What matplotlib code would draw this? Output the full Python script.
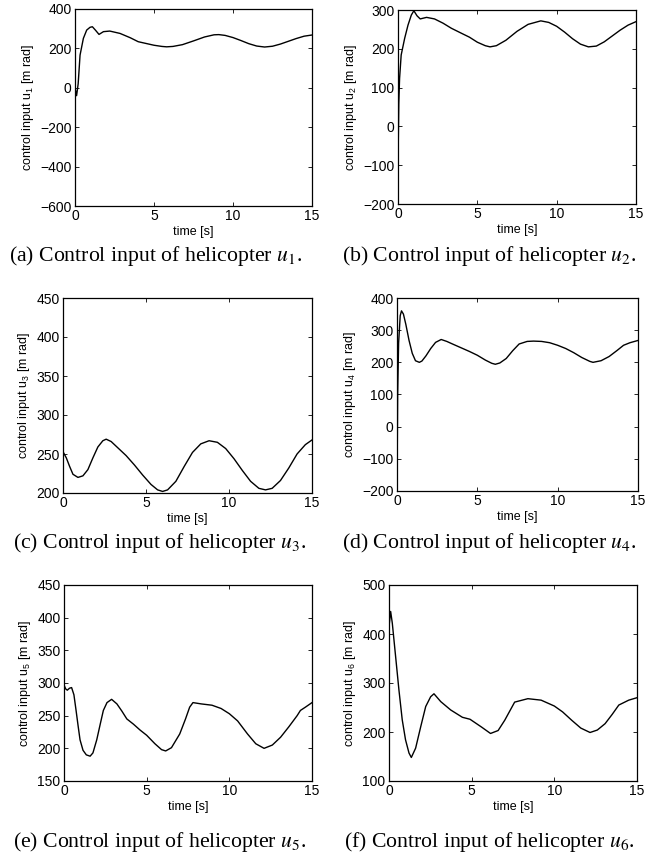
import matplotlib
matplotlib.use("Agg")
import matplotlib.pyplot as plt

# values (time [s], control input [m rad])
t1 = [0, 0.1, 0.2, 0.32, 0.53, 0.74, 0.95, 1.1, 1.3, 1.52, 1.8, 2.2, 2.85, 3.5, 4.0, 4.5,
      5.0, 5.5, 5.8, 6.2, 6.8, 7.5, 8.2, 8.8, 9.1, 9.5, 10.0, 10.5, 11.0, 11.5, 12.0,
      12.5, 13.0, 13.5, 14.0, 14.5, 15.0]
u1 = [0, -40, 20, 166, 251, 293, 307, 310, 292, 271, 285, 288, 276, 254, 234, 225,
      216, 210, 208, 210, 219, 238, 258, 269, 270, 266, 255, 240, 224, 212, 207,
      211, 222, 236, 250, 262, 268]

t2 = [0, 0.05, 0.1, 0.2, 0.42, 0.63, 0.84, 1.0, 1.2, 1.4, 1.8, 2.3, 2.84, 3.36, 4.0,
      4.5, 5.0, 5.5, 5.8, 6.2, 6.8, 7.5, 8.2, 9.0, 9.5, 10.0, 10.5, 11.0, 11.5, 12.0,
      12.5, 13.0, 13.5, 14.0, 14.5, 15.0]
u2 = [-100, 60, 124, 184, 227, 261, 287, 298, 285, 277, 281, 277, 266, 253, 240,
      230, 217, 208, 205, 208, 222, 245, 263, 272, 268, 258, 243, 226, 212, 205,
      207, 218, 233, 248, 261, 270]

t3 = [0, 0.2, 0.4, 0.6, 0.9, 1.2, 1.5, 1.8, 2.1, 2.4, 2.6, 2.9, 3.3, 3.8, 4.3, 4.8,
      5.3, 5.7, 6.0, 6.3, 6.8, 7.3, 7.8, 8.3, 8.8, 9.3, 9.8, 10.3, 10.8, 11.3, 11.8,
      12.2, 12.6, 13.1, 13.6, 14.1, 14.6, 15.0]
u3 = [253, 245, 234, 224, 220, 222, 230, 245, 259, 267, 269, 266, 258, 248, 236, 223,
      211, 204, 202, 204, 215, 234, 252, 263, 267, 265, 257, 244, 229, 215, 206,
      204, 206, 216, 232, 250, 262, 268]

t4 = [0, 0.04, 0.1, 0.2, 0.28, 0.4, 0.55, 0.75, 0.95, 1.15, 1.39, 1.55, 1.8, 2.1, 2.4,
      2.75, 3.1, 3.5, 4.0, 4.5, 5.0, 5.5, 5.9, 6.12, 6.4, 6.8, 7.2, 7.6, 8.1, 8.5, 9.0,
      9.5, 10.0, 10.5, 11.0, 11.5, 12.0, 12.2, 12.7, 13.2, 13.7, 14.1, 14.5, 15.0]
u4 = [-200, 100, 260, 345, 360, 350, 318, 268, 228, 205, 200, 204, 220, 243, 262,
      271, 265, 256, 245, 234, 222, 207, 197, 194, 198, 212, 236, 257, 265, 266, 265,
      261, 253, 243, 230, 215, 203, 200, 205, 218, 237, 253, 261, 268]

t5 = [0, 0.1, 0.2, 0.33, 0.46, 0.6, 0.73, 0.85, 0.97, 1.15, 1.35, 1.58, 1.75, 1.98,
      2.2, 2.38, 2.6, 2.88, 3.2, 3.5, 3.8, 4.2, 4.6, 5.0, 5.5, 5.9, 6.15, 6.5, 7.0,
      7.35, 7.6, 7.8, 8.3, 8.95, 9.5, 10.0, 10.5, 11.1, 11.6, 12.1, 12.6, 13.1, 13.6,
      14.1, 14.3, 14.6, 15.0]
u5 = [297, 291, 289, 292, 293, 282, 258, 235, 213, 197, 190, 188, 193, 213,
      238, 258, 270, 275, 268, 257, 245, 237, 228, 220, 207, 198, 196, 201, 222,
      245, 263, 270, 268, 266, 261, 253, 242, 222, 207, 200, 205, 217, 233,
      250, 258, 263, 270]

t6 = [0, 0.1, 0.2, 0.4, 0.6, 0.8, 1.0, 1.21, 1.35, 1.61, 1.92, 2.22, 2.52, 2.72, 3.13,
      3.73, 4.44, 4.9, 5.6, 6.14, 6.6, 7.0, 7.6, 8.4, 9.2, 10.0, 10.5, 11.05, 11.6,
      12.16, 12.6, 13.07, 13.5, 13.9, 14.5, 15.0]
u6 = [415, 446, 422, 354, 286, 225, 184, 157, 148, 167, 211, 252, 272, 278, 262,
      245, 230, 226, 210, 197, 203, 224, 261, 268, 265, 253, 241, 224, 208,
      199, 204, 217, 236, 255, 265, 270]

series = [(t1, u1), (t2, u2), (t3, u3), (t4, u4), (t5, u5), (t6, u6)]
ylims = [(-600, 400), (-200, 300), (200, 450), (-200, 400), (150, 450), (100, 500)]
ysteps = [200, 100, 50, 100, 50, 100]
letters = ["a", "b", "c", "d", "e", "f"]

# axes boxes in pixels: left, top, right, bottom
boxes = [(75, 9, 312, 206), (398, 10, 636, 204),
         (63, 298, 312, 493), (397, 298, 638, 491),
         (64, 585, 312, 781), (389, 585, 637, 781)]
cap_y = [256, 256, 543, 543, 842, 842]
cap_x = [156, 489, 160, 489, 160, 489]

W, H = 667, 856
fig = plt.figure(figsize=(W / 100, H / 100), dpi=100)
sans = "Liberation Sans"

for i in range(6):
    l, tp, r, b = boxes[i]
    ax = fig.add_axes([l / W, (H - b) / H, (r - l) / W, (b - tp) / H])
    t, u = series[i]
    ax.plot(t, u, color="black", lw=1.0)
    ax.set_xlim(0, 15)
    ax.set_ylim(*ylims[i])
    ax.set_xticks([0, 5, 10, 15])
    lo, hi = ylims[i]
    ax.set_yticks(list(range(lo, hi + 1, ysteps[i])))
    ax.tick_params(direction="in", top=True, right=True, length=3, width=0.6,
                   labelsize=10, pad=2.5)
    for lab in ax.get_xticklabels() + ax.get_yticklabels():
        lab.set_fontfamily(sans)
    for s in ax.spines.values():
        s.set_linewidth(0.9)
    ax.set_xlabel("time [s]", fontsize=9, family=sans, labelpad=1.5)
    ax.set_ylabel(r"control input u$_\mathregular{%d}$ [m rad]" % (i + 1),
                  fontsize=9, family=sans, labelpad=3)
    fig.text(cap_x[i] / W, 1 - cap_y[i] / H,
             r"(%s) Control input of helicopter $u_%d$." % (letters[i], i + 1),
             ha="center", va="center", fontsize=15.7, family="Liberation Serif",
             math_fontfamily="stix")

fig.savefig("out.png", dpi=100)
